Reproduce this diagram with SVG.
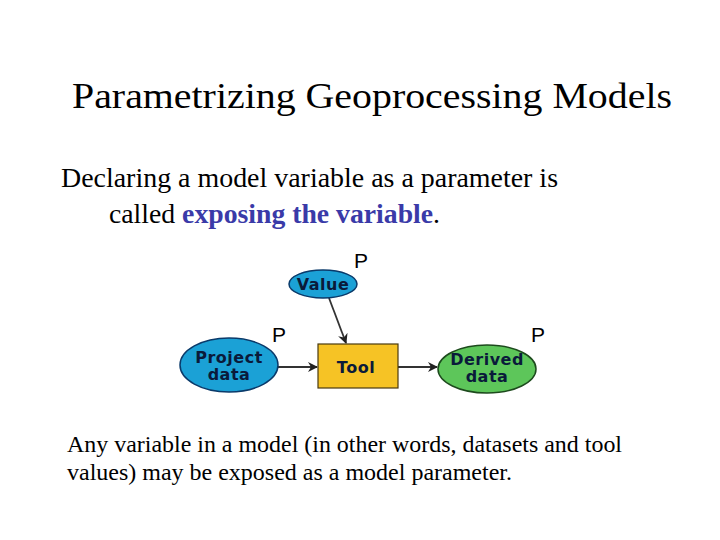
<svg xmlns="http://www.w3.org/2000/svg" width="720" height="540" viewBox="0 0 720 540">
<style>
.serif{font-family:"Liberation Serif","Times New Roman",serif;fill:#000}
.lbl{font-family:"DejaVu Sans",Verdana,sans-serif;font-weight:bold;font-size:16px;fill:#0a1a3a;text-anchor:middle;letter-spacing:0.5px}
.p{font-family:"Liberation Sans",Arial,sans-serif;font-size:21px;fill:#000}
.blue{fill:#1ba1d6;stroke:#0a3a6a;stroke-width:1.5}
.conn{stroke:#333;stroke-width:1.8;fill:none;marker-end:url(#ah)}
</style>
<defs>
<marker id="ah" markerWidth="10" markerHeight="10" refX="9" refY="5" orient="auto" markerUnits="userSpaceOnUse">
<path d="M0,0 L10,5 L0,10 L3,5 Z" fill="#222"/>
</marker>
</defs>
<rect width="720" height="540" fill="#fff"/>
<text class="serif" x="72" y="108" font-size="36" textLength="600" lengthAdjust="spacingAndGlyphs">Parametrizing Geoprocessing Models</text>
<text class="serif" x="61" y="187" font-size="28" textLength="497" lengthAdjust="spacingAndGlyphs">Declaring a model variable as a parameter is</text>
<text class="serif" x="109" y="223" font-size="28" textLength="331" lengthAdjust="spacingAndGlyphs">called <tspan font-weight="bold" fill="#3a3aa8">exposing the variable</tspan>.</text>
<g id="connectors">
<line class="conn" x1="329" y1="298" x2="346" y2="343"/>
<line class="conn" x1="278" y1="367" x2="317" y2="367"/>
<line class="conn" x1="398" y1="367" x2="437" y2="367"/>
</g>
<g id="value">
<ellipse class="blue" cx="323" cy="284" rx="34" ry="14"/>
<text class="lbl" x="323" y="290">Value</text>
<text class="p" x="354" y="268">P</text>
</g>
<g id="project">
<ellipse class="blue" cx="229" cy="365" rx="49" ry="27"/>
<text class="lbl" x="229" y="363">Project</text>
<text class="lbl" x="229" y="380">data</text>
<text class="p" x="272" y="342">P</text>
</g>
<g id="tool">
<rect x="318" y="344" width="80" height="44" fill="#f6c325" stroke="#4a3a10" stroke-width="1.2"/>
<text class="lbl" x="356" y="373">Tool</text>
</g>
<g id="derived">
<ellipse cx="487" cy="369" rx="49" ry="24" fill="#5dc65a" stroke="#1d4a1d" stroke-width="1.5"/>
<text class="lbl" x="487" y="365">Derived</text>
<text class="lbl" x="487" y="382">data</text>
<text class="p" x="531" y="342">P</text>
</g>
<text class="serif" x="67" y="452" font-size="24" textLength="555" lengthAdjust="spacingAndGlyphs">Any variable in a model (in other words, datasets and tool</text>
<text class="serif" x="67" y="480" font-size="24" textLength="445" lengthAdjust="spacingAndGlyphs">values) may be exposed as a model parameter.</text>
</svg>
